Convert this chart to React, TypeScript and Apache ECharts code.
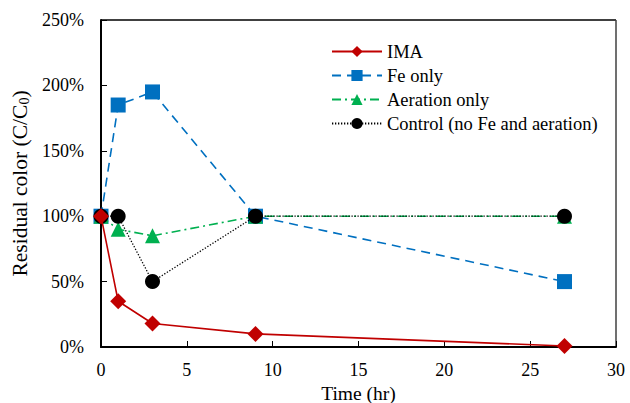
import React, { useEffect, useRef } from "react";
import * as echarts from "echarts";

const times = [0, 1, 3, 9, 27];
const ima = [100, 35, 18, 10, 0.8];
const feOnly = [100, 185, 195, 100, 50];
const aerationOnly = [100, 90, 85, 100, 100];
const control = [100, 100, 50, 100, 100];
const seriesNames = ["IMA", "Fe only", "Aeration only", "Control (no Fe and aeration)"];

const FONT = "Liberation Serif";

export default function App() {
  const ref = useRef<HTMLDivElement>(null);
  useEffect(() => {
    const chart = echarts.init(ref.current!, null, { renderer: "svg" });
    const pair = (arr: number[]) => times.map((t, i) => [t, arr[i]]);
    chart.setOption({
      animation: false,
      textStyle: { fontFamily: FONT, fontWeight: "normal" },
      grid: { left: 101, right: 14, top: 20, bottom: 56, outerBoundsMode: "none", containLabel: false },
      legend: {
        left: 326,
        top: 37,
        orient: "vertical",
        itemWidth: 50,
        itemHeight: 14,
        itemGap: 5,
        textStyle: { fontFamily: FONT, fontSize: 18.5, color: "#000", fontWeight: "normal" },
        data: seriesNames,
      },
      xAxis: {
        type: "value",
        min: 0,
        max: 30,
        interval: 5,
        name: "Time (hr)",
        nameLocation: "middle",
        nameGap: 28,
        nameTextStyle: { fontFamily: FONT, fontSize: 19.5, color: "#000", fontWeight: "normal" },
        axisLine: { onZero: false, lineStyle: { color: "#000", width: 2 } },
        axisTick: { inside: true, length: 6, lineStyle: { color: "#000", width: 1 } },
        axisLabel: { fontFamily: FONT, fontSize: 18, color: "#000", margin: 14, fontWeight: "normal" },
        splitLine: { show: false },
      },
      yAxis: {
        type: "value",
        min: 0,
        max: 250,
        interval: 50,
        name: "{a|Residual color (C/C}{s|0}{a|)}",
        nameLocation: "middle",
        nameGap: 69,
        nameTextStyle: {
          fontFamily: FONT,
          color: "#000",
          fontWeight: "normal",
          rich: {
            a: { fontFamily: FONT, fontSize: 21.5, color: "#000", fontWeight: "normal" },
            s: { fontFamily: FONT, fontSize: 14, color: "#000", fontWeight: "normal", verticalAlign: "bottom", padding: [9, 0, 0, 0] },
          },
        },
        axisLine: { lineStyle: { color: "#000", width: 2 } },
        axisTick: { inside: true, length: 6, lineStyle: { color: "#000", width: 1 } },
        axisLabel: { fontFamily: FONT, fontSize: 18, color: "#000", margin: 17, fontWeight: "normal", formatter: "{value}%" },
        splitLine: { show: false },
      },
      graphic: [
        {
          type: "line",
          shape: { x1: 101, y1: 20, x2: 616, y2: 20 },
          style: { stroke: "#404040", lineWidth: 2 },
        },
        {
          type: "line",
          shape: { x1: 616, y1: 20, x2: 616, y2: 347 },
          style: { stroke: "#404040", lineWidth: 1.5 },
        },
      ],
      series: [
        {
          name: "IMA",
          type: "line",
          data: pair(ima),
          symbol: "diamond",
          symbolSize: 16,
          itemStyle: { color: "#C00000" },
          lineStyle: { color: "#C00000", width: 1.6, type: "solid" },
          z: 5,
        },
        {
          name: "Fe only",
          type: "line",
          data: pair(feOnly),
          symbol: "rect",
          symbolSize: 15,
          itemStyle: { color: "#0070C0" },
          lineStyle: { color: "#0070C0", width: 1.6, type: [9, 6] },
          z: 2,
        },
        {
          name: "Aeration only",
          type: "line",
          data: pair(aerationOnly),
          symbol: "triangle",
          symbolSize: 15,
          itemStyle: { color: "#00B050" },
          lineStyle: { color: "#00B050", width: 1.6, type: [9, 4, 2, 4] },
          z: 3,
        },
        {
          name: "Control (no Fe and aeration)",
          type: "line",
          data: pair(control),
          symbol: "circle",
          symbolSize: 15,
          itemStyle: { color: "#000" },
          lineStyle: { color: "#000", width: 1.3, type: [1.3, 1.7] },
          z: 4,
        },
      ],
    });
    return () => chart.dispose();
  }, []);
  return <div ref={ref} style={{ width: 630, height: 403, position: "absolute", left: 0, top: 0 }} />;
}
